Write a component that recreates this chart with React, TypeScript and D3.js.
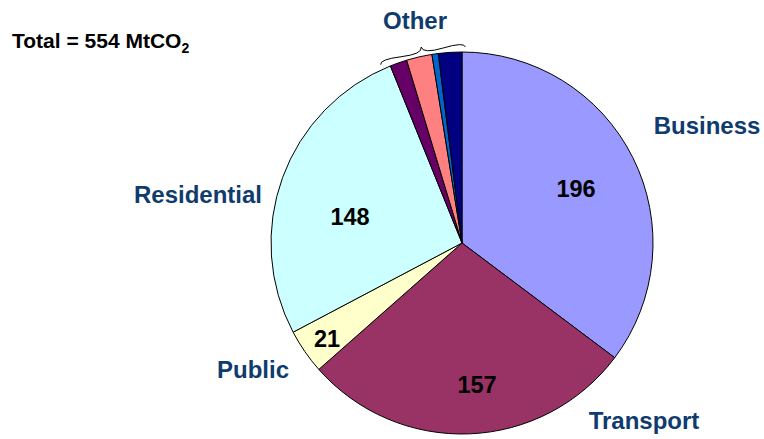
import * as d3 from 'd3';
import React from 'react';

// Main sectors (end user), MtCO2
const sectors = ['Business', 'Transport', 'Public', 'Residential'];
const sectorValues = [196, 157, 21, 148];
// "Other" split into four small slices
const otherValues = [8, 12, 3, 11];
const totalLabel = 'Total = 554 MtCO';

const sectorColors = ['#9999ff', '#993366', '#ffffcc', '#ccffff'];
const otherColors = ['#660066', '#ff8080', '#0066cc', '#000080'];

const width = 764;
const height = 439;
const cx = 462;
const cy = 243;
const radius = 191;
const font = '"Liberation Sans", Arial, Helvetica, sans-serif';
const labelColor = '#0f3b6f';

// hand placed label offsets from pie centre (text centre, baseline)
const nameOffsets: Record<string, [number, number]> = {
    Business: [245, -109],
    Transport: [182, 186],
    Public: [-209, 135],
    Residential: [-264, -40],
    Other: [-47, -214],
};
const valueOffsets: Record<string, [number, number]> = {
    Business: [114, -46],
    Transport: [15, 150],
    Public: [-135, 104],
    Residential: [-112, -18],
};

interface Slice {
    name: string;
    value: number;
    color: string;
    main: boolean;
}

const slices: Slice[] = [
    ...sectors.map((s, i) => ({ name: s, value: sectorValues[i], color: sectorColors[i], main: true })),
    ...otherValues.map((v, i) => ({ name: 'Other ' + (i + 1), value: v, color: otherColors[i], main: false })),
];

// curly brace between two points, bulging to the left of (x1,y1)->(x2,y2)
function curlyBrace(x1: number, y1: number, x2: number, y2: number, w: number, q: number): string {
    let dx = x1 - x2;
    let dy = y1 - y2;
    const len = Math.sqrt(dx * dx + dy * dy);
    dx /= len;
    dy /= len;
    const qx1 = x1 + q * w * dy;
    const qy1 = y1 - q * w * dx;
    const qx2 = x1 - 0.25 * len * dx + (1 - q) * w * dy;
    const qy2 = y1 - 0.25 * len * dy - (1 - q) * w * dx;
    const tx = x1 - 0.5 * len * dx + w * dy;
    const ty = y1 - 0.5 * len * dy - w * dx;
    const qx3 = x2 + q * w * dy;
    const qy3 = y2 - q * w * dx;
    const qx4 = x1 - 0.75 * len * dx + (1 - q) * w * dy;
    const qy4 = y1 - 0.75 * len * dy - (1 - q) * w * dx;
    return `M${x1},${y1} Q${qx1},${qy1} ${qx2},${qy2} T${tx},${ty} M${x2},${y2} Q${qx3},${qy3} ${qx4},${qy4} T${tx},${ty}`;
}

const App = (): React.ReactElement => {
    const pie = d3
        .pie<Slice>()
        .sort(null)
        .value((d) => d.value);
    const arcs = pie(slices);
    const arc = d3.arc<d3.PieArcDatum<Slice>>().innerRadius(0).outerRadius(radius);

    // brace over the "Other" slices
    const others = arcs.filter((a) => !a.data.main);
    const a0 = others[0].startAngle - (2.5 * Math.PI) / 180;
    const a1 = others[others.length - 1].endAngle + (1 * Math.PI) / 180;
    const br = radius + 5;
    const px = (a: number) => cx + br * Math.sin(a);
    const py = (a: number) => cy - br * Math.cos(a);
    const brace = curlyBrace(px(a1), py(a1), px(a0), py(a0), 9, 0.6);

    return (
        <svg
            width={width}
            height={height}
            style={{ position: 'absolute', left: 0, top: 0, background: '#fff' }}
            fontFamily={font}
            fontWeight="bold"
        >
            <text x={12} y={48} fontSize={21} fill="#000">
                {totalLabel}
                <tspan fontSize={14} dy={5}>
                    2
                </tspan>
            </text>
            <g transform={`translate(${cx},${cy})`}>
                {arcs.map((a, i) => (
                    <path key={i} d={arc(a) as string} fill={a.data.color} stroke="#000" strokeWidth={1} strokeLinejoin="round" />
                ))}
                {sectors.map((s, i) => (
                    <text
                        key={'v' + s}
                        x={valueOffsets[s][0]}
                        y={valueOffsets[s][1]}
                        textAnchor="middle"
                        fontSize={23.5}
                        fill="#000"
                    >
                        {sectorValues[i]}
                    </text>
                ))}
                {Object.keys(nameOffsets).map((s) => (
                    <text
                        key={'n' + s}
                        x={nameOffsets[s][0]}
                        y={nameOffsets[s][1]}
                        textAnchor="middle"
                        fontSize={24}
                        fill={labelColor}
                    >
                        {s}
                    </text>
                ))}
            </g>
            <path d={brace} fill="none" stroke="#000" strokeWidth={1} />
        </svg>
    );
};

export default App;
